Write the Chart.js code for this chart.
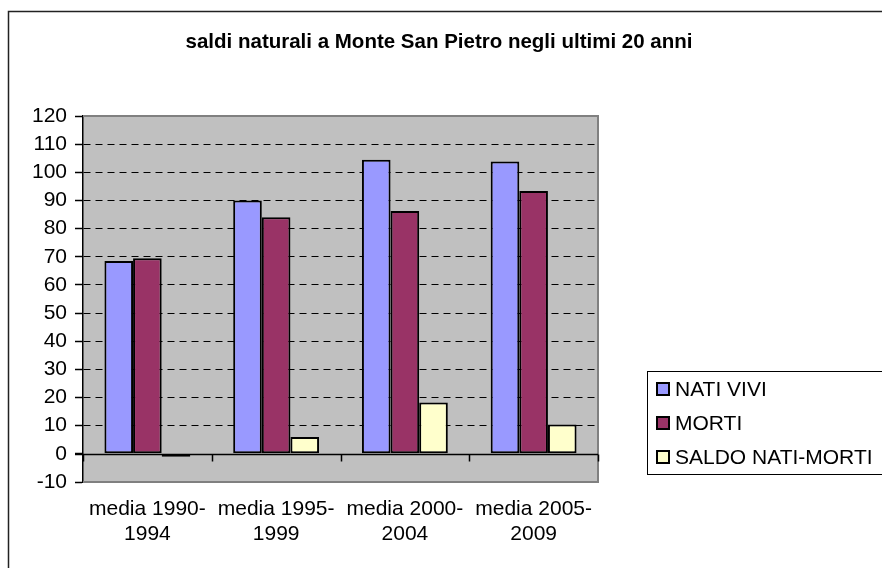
<!DOCTYPE html>
<html>
<head>
<meta charset="utf-8">
<script src="https://cdn.jsdelivr.net/npm/chart.js@4/dist/chart.umd.min.js"></script>
<style>
html,body{margin:0;padding:0;background:#fff;}
canvas{display:block;}
</style>
</head>
<body>
<canvas id="c" width="882" height="568"></canvas>
<script>
const chartTitle = "saldi naturali a Monte San Pietro negli ultimi 20 anni";
const categories = [["media 1990-","1994"],["media 1995-","1999"],["media 2000-","2004"],["media 2005-","2009"]];
const seriesNames = ["NATI VIVI","MORTI","SALDO NATI-MORTI"];
const natiVivi = [68.5, 90, 104.5, 103.8];
const morti = [69.5, 84, 86.3, 93.4];
const saldo = [-1, 6, 18.2, 10.4];
const yMin = -10, yMax = 120, yStep = 10;

const colors = ["#9999FF","#993366","#FFFFCC"];
const FONT = "'Liberation Sans', Arial, sans-serif";

const decor = {
  id: 'decor',
  beforeDraw(chart) {
    const {ctx, chartArea: a} = chart;
    ctx.save();
    ctx.fillStyle = '#C0C0C0';
    ctx.fillRect(a.left, a.top, a.right - a.left, a.bottom - a.top);
    ctx.restore();
  },
  afterDatasetsDraw(chart) {
    const {ctx, chartArea: a, scales: {x, y}} = chart;
    ctx.save();
    ctx.strokeStyle = '#808080';
    ctx.lineWidth = 2;
    ctx.beginPath();
    ctx.moveTo(a.left, a.top); ctx.lineTo(a.right, a.top);
    ctx.lineTo(a.right, a.bottom); ctx.lineTo(a.left, a.bottom);
    ctx.stroke();
    const y0 = Math.round(y.getPixelForValue(0)) + 0.5;
    ctx.strokeStyle = '#000';
    ctx.lineWidth = 1.5;
    ctx.beginPath();
    ctx.moveTo(a.left - 8, y0); ctx.lineTo(a.right, y0);
    ctx.stroke();
    for (let i = 0; i <= categories.length; i++) {
      const px = Math.round(x.getPixelForValue(i - 0.5)) + 0.5;
      ctx.beginPath();
      ctx.moveTo(px, y0); ctx.lineTo(px, y0 + 7);
      ctx.stroke();
    }
    ctx.restore();
  },
  afterDraw(chart) {
    const {ctx} = chart;
    ctx.save();
    ctx.strokeStyle = '#222';
    ctx.lineWidth = 1.5;
    ctx.strokeRect(8.5, 11.5, 900, 600);
    ctx.fillStyle = '#000';
    ctx.font = "bold 20.5px " + FONT;
    ctx.textAlign = 'center';
    ctx.textBaseline = 'middle';
    ctx.fillText(chartTitle, 439, 42);
    ctx.strokeStyle = '#000';
    ctx.lineWidth = 1;
    ctx.strokeRect(647.5, 371.5, 300, 103);
    ctx.font = "21px " + FONT;
    ctx.textAlign = 'left';
    chart.data.datasets.forEach((ds, i) => {
      const cy = 389 + i * 34;
      ctx.fillStyle = ds.backgroundColor;
      ctx.fillRect(657, cy - 6, 12, 12);
      ctx.lineWidth = 2;
      ctx.strokeStyle = '#000';
      ctx.strokeRect(657, cy - 6, 12, 12);
      ctx.fillStyle = '#000';
      ctx.fillText(ds.label, 675, cy + 1);
    });
    ctx.restore();
  }
};

const datasetValues = [natiVivi, morti, saldo];
new Chart(document.getElementById('c'), {
  type: 'bar',
  data: {
    labels: categories,
    datasets: seriesNames.map((name, i) => ({
      label: name,
      data: datasetValues[i],
      backgroundColor: colors[i],
      borderColor: '#000',
      borderWidth: 2,
      borderSkipped: false,
      categoryPercentage: 0.667,
      barPercentage: 1.0
    }))
  },
  options: {
    responsive: false,
    animation: false,
    devicePixelRatio: 1,
    layout: { padding: { left: 0, right: 284, top: 116, bottom: 0 } },
    plugins: { legend: { display: false }, title: { display: false }, tooltip: { enabled: false } },
    scales: {
      x: {
        grid: { display: false, drawTicks: false },
        border: { display: false },
        ticks: { color: '#000', font: { family: FONT, size: 21, lineHeight: 1.19 }, padding: 15, maxRotation: 0, autoSkip: false },
        afterFit(s) { s.height = 86; }
      },
      y: {
        min: yMin, max: yMax,
        ticks: { stepSize: yStep, autoSkip: false, color: '#000', font: { family: FONT, size: 21, lineHeight: 1.0 }, padding: 8 },
        grid: {
          color: (c) => { const v = c.tick && c.tick.value; return (v === yMax || v === yMin || v === 0) ? 'rgba(0,0,0,0)' : '#000'; },
          lineWidth: 1,
          tickColor: '#000',
          tickLength: 8,
          tickWidth: 1.5,
          tickBorderDash: []
        },
        border: { display: true, color: '#000', width: 1.5, dash: [7, 5] },
        afterFit(s) { s.width = 83; }
      }
    }
  },
  plugins: [decor]
});
</script>
</body>
</html>
